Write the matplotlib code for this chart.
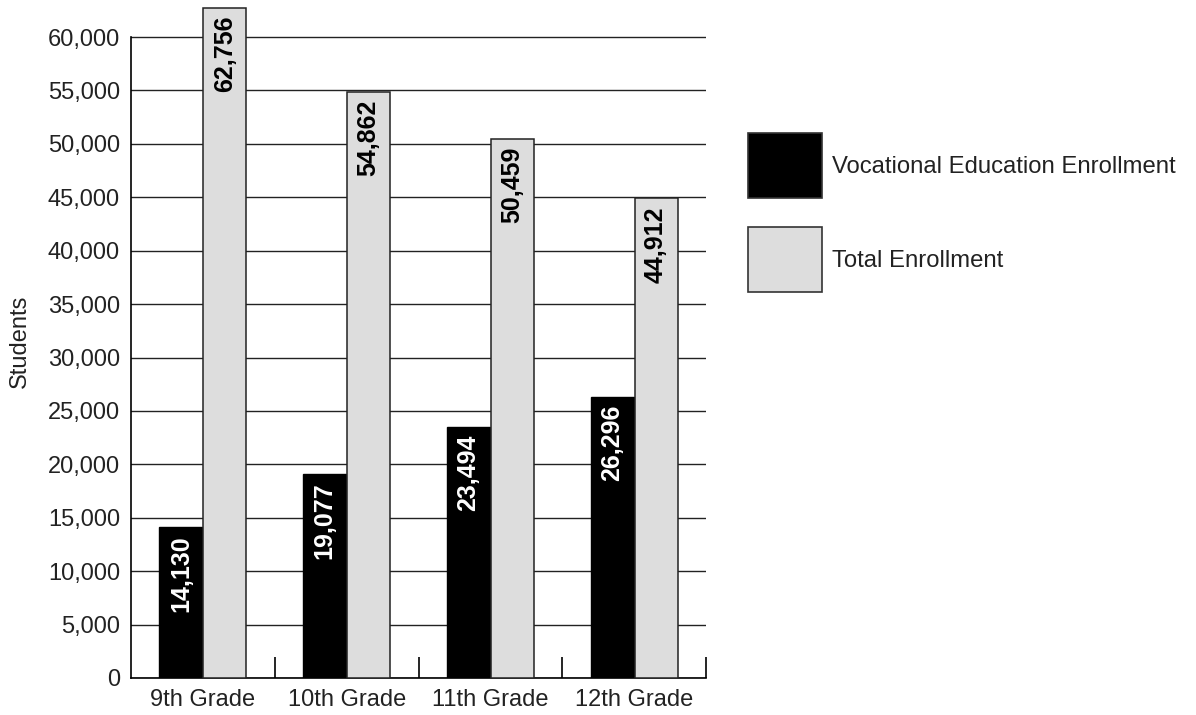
import numpy as np
import matplotlib.pyplot as plt
from matplotlib.patches import Rectangle
from matplotlib.ticker import FuncFormatter

plt.rcParams['font.family'] = ['Liberation Sans', 'DejaVu Sans']
plt.rcParams['font.size'] = 17

# enrollment by grade
grades = ['9th Grade', '10th Grade', '11th Grade', '12th Grade']
vocational = [14130, 19077, 23494, 26296]
total = [62756, 54862, 50459, 44912]
series_names = ['Vocational Education Enrollment', 'Total Enrollment']
series_colors = ['#000000', '#dddddd']

fig = plt.figure(figsize=(11.96, 7.15), dpi=100)
ax = fig.add_axes([131 / 1196, 1 - 678 / 715, 575 / 1196, 673 / 715])

x = np.arange(len(grades))
w = 0.3
b1 = ax.bar(x - 0.153, vocational, w, color=series_colors[0], edgecolor='#000000', linewidth=1, zorder=3)
b2 = ax.bar(x + 0.153, total, w, color=series_colors[1], edgecolor='#222222', linewidth=1.1, zorder=3)

# value labels inside the top of each bar
for bars, vals, tc in [(b1, vocational, 'white'), (b2, total, 'black')]:
    for rect, v in zip(bars, vals):
        ax.annotate(f'{v:,}', (rect.get_x() + rect.get_width() / 2, v),
                    xytext=(0, -8), textcoords='offset pixels',
                    rotation=90, ha='center', va='top',
                    color=tc, fontweight='bold', fontsize=18, zorder=4)

ax.set_xlim(-0.5, len(grades) - 0.5)
ax.set_ylim(0, 63000)
ax.set_yticks(range(0, 60001, 5000))
ax.yaxis.set_major_formatter(FuncFormatter(lambda v, p: f'{int(v):,}'))
ax.yaxis.grid(True, color='#222222', linewidth=1, zorder=0)

ax.set_xticks(x)
ax.set_xticklabels(grades)
ax.set_xticks(np.arange(len(grades)) + 0.5, minor=True)
ax.tick_params(axis='x', which='major', length=0, pad=8, colors='#222222')
ax.tick_params(axis='x', which='minor', direction='in', length=15, width=1.2)
ax.tick_params(axis='y', length=0, pad=8, colors='#222222')

for s in ['top', 'right']:
    ax.spines[s].set_visible(False)
ax.spines['left'].set_bounds(0, 60000)
ax.spines['left'].set_linewidth(1.2)
ax.spines['bottom'].set_linewidth(1.2)

ax.set_ylabel('Students', fontsize=17, labelpad=12, color='#222222')

# legend boxes drawn in figure pixels
for i, (name, col) in enumerate(zip(series_names, series_colors)):
    top = 133 + i * 94
    fig.add_artist(Rectangle((748 / 1196, 1 - (top + 65) / 715), 74 / 1196, 65 / 715,
                             transform=fig.transFigure, facecolor=col,
                             edgecolor='#333333', linewidth=1.2))
    fig.text(832 / 1196, 1 - (top + 34) / 715, name, ha='left', va='center',
             fontsize=17.2, color='#222222')

fig.savefig('out.png', dpi=100)
